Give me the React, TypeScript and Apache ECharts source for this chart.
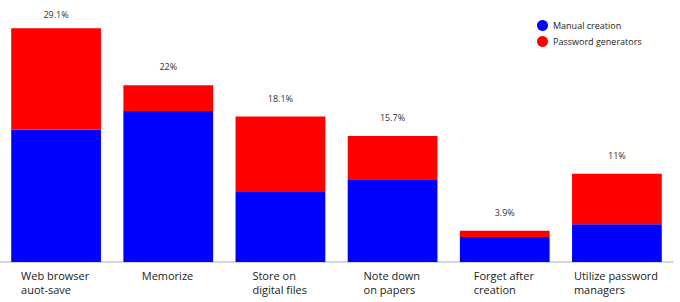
import React, { useEffect, useRef } from "react";
import * as echarts from "echarts";

const categories = [
  "Web browser\nauot-save",
  "Memorize",
  "Store on\ndigital files",
  "Note down\non papers",
  "Forget after\ncreation",
  "Utilize password\nmanagers",
];
const manualCreation = [16.5, 18.8, 8.7, 10.3, 3.1, 4.7];
const passwordGenerators = [12.6, 3.2, 9.4, 5.4, 0.8, 6.3];
const totalLabels = ["29.1%", "22%", "18.1%", "15.7%", "3.9%", "11%"];

const FONT = "'Open Sans', 'Noto Sans', sans-serif";
const LABEL_SIZE = 11;

export default function App() {
  const ref = useRef<HTMLDivElement>(null);
  useEffect(() => {
    document.body.style.margin = "0";
    const canvas = document.createElement("canvas");
    const ctx = canvas.getContext("2d")!;
    ctx.font = `${LABEL_SIZE}px ${FONT}`;
    const rich: Record<string, any> = {};
    categories.forEach((c, i) => {
      const w = Math.max(...c.split("\n").map((l) => ctx.measureText(l).width));
      rich["c" + i] = {
        width: Math.ceil(w) + 1,
        align: "left",
        fontSize: LABEL_SIZE,
        color: "#1a1a1a",
        lineHeight: 14,
        fontFamily: FONT,
      };
    });
    const chart = echarts.init(ref.current!, null, { renderer: "svg" });
    chart.setOption({
      animation: false,
      textStyle: { fontFamily: FONT },
      legend: {
        orient: "vertical",
        left: 532,
        top: 15,
        icon: "circle",
        itemWidth: 11,
        itemHeight: 11,
        itemGap: 5,
        textStyle: { fontSize: 9, color: "#222", fontFamily: FONT },
        data: ["Manual creation", "Password generators"],
      },
      grid: { left: 0, right: 7, top: 21, bottom: 40 },
      xAxis: {
        type: "category",
        data: categories,
        axisTick: { show: false },
        axisLine: { lineStyle: { color: "#d3d6e0", width: 2 } },
        axisLabel: {
          fontSize: LABEL_SIZE,
          color: "#1a1a1a",
          lineHeight: 14,
          margin: 6,
          interval: 0,
          fontFamily: FONT,
          formatter: (v: string, i: number) =>
            v
              .split("\n")
              .map((l) => `{c${i}|${l}}`)
              .join("\n"),
          rich,
        },
      },
      yAxis: {
        type: "value",
        min: 0,
        max: 30,
        show: false,
        splitLine: { show: false },
      },
      series: [
        {
          name: "Manual creation",
          type: "bar",
          stack: "total",
          data: manualCreation,
          barWidth: "80%",
          itemStyle: { color: "#0000ff" },
        },
        {
          name: "Password generators",
          type: "bar",
          stack: "total",
          data: passwordGenerators.map((v, i) =>
            i === 0 ? { value: v, label: { distance: 9 } } : v
          ),
          barWidth: "80%",
          itemStyle: { color: "#ff0000" },
          label: {
            show: true,
            position: "top",
            distance: 14,
            fontSize: 9,
            color: "#333",
            fontFamily: FONT,
            formatter: (p: any) => totalLabels[p.dataIndex],
          },
        },
      ],
    });
    return () => chart.dispose();
  }, []);
  return <div ref={ref} style={{ width: 680, height: 302 }} />;
}
